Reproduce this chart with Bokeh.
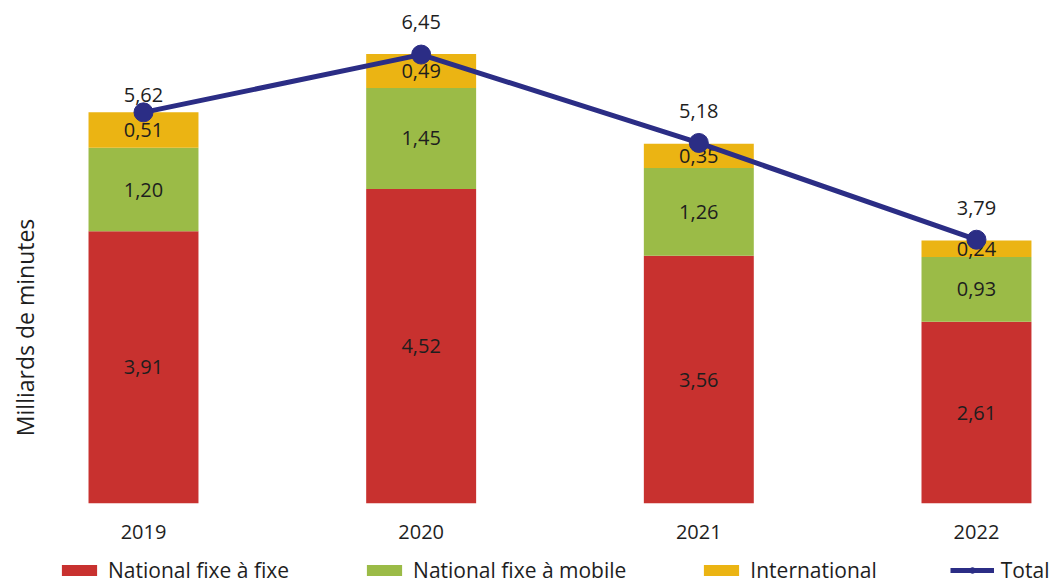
from bokeh.plotting import figure
from bokeh.models import ColumnDataSource, Range1d, FixedTicker, Legend, LegendItem, Label
from bokeh.layouts import column
from bokeh.core.properties import value
from bokeh.embed import file_html
from bokeh.resources import INLINE
import math

years = ["2019", "2020", "2021", "2022"]
fixe_fixe = [3.91, 4.52, 3.56, 2.61]
fixe_mobile = [1.20, 1.45, 1.26, 0.93]
international = [0.51, 0.49, 0.35, 0.24]
total = [5.62, 6.45, 5.18, 3.79]
series_names = ["National fixe à fixe", "National fixe à mobile", "International", "Total"]

colors = ["#C8312F", "#9BBB47", "#EBB413"]
line_color = "#2B2D85"
FONT = "Open Sans"
TXT = "#1E1E1E"

def fmt(v):
    return f"{v:.2f}".replace(".", ",")

xs = list(range(len(years)))
b1 = [0.0] * 4
t1 = fixe_fixe
b2 = t1
t2 = [a + b for a, b in zip(t1, fixe_mobile)]
b3 = t2
t3 = [a + b for a, b in zip(t2, international)]

src = ColumnDataSource(dict(
    x=xs,
    b1=b1, t1=t1, m1=[(a + b) / 2 for a, b in zip(b1, t1)], l1=[fmt(v) for v in fixe_fixe],
    b2=b2, t2=t2, m2=[(a + b) / 2 for a, b in zip(b2, t2)], l2=[fmt(v) for v in fixe_mobile],
    b3=b3, t3=t3, m3=[(a + b) / 2 for a, b in zip(b3, t3)], l3=[fmt(v) for v in international],
    total=total, lt=[fmt(v) for v in total],
    off=[-17, -33, -32, -32],
))

p = figure(frame_width=1044, frame_height=495, output_backend="svg", toolbar_location=None,
           x_range=Range1d(-0.479, 3.281), y_range=Range1d(0, 7.112),
           min_border_left=10, min_border_right=8, min_border_top=8, min_border_bottom=45,
           outline_line_color=None)
p.xgrid.visible = False
p.ygrid.visible = False
p.yaxis.visible = False

bw = 0.396
p.vbar(x="x", bottom="b1", top="t1", width=bw, source=src, fill_color=colors[0], line_color=None)
p.vbar(x="x", bottom="b2", top="t2", width=bw, source=src, fill_color=colors[1], line_color=None)
p.vbar(x="x", bottom="b3", top="t3", width=bw, source=src, fill_color=colors[2], line_color=None)

for m, l in (("m1", "l1"), ("m2", "l2"), ("m3", "l3")):
    p.text(x="x", y=m, text=l, source=src, text_font=value(FONT), text_font_size="20px",
           text_align="center", text_baseline="middle", text_color=TXT)

p.line(x="x", y="total", source=src, line_color=line_color, line_width=5)
p.scatter(x="x", y="total", source=src, size=19, fill_color=line_color, line_color=line_color)
p.text(x="x", y="total", text="lt", y_offset="off", source=src, text_font=value(FONT),
       text_font_size="20px", text_align="center", text_baseline="middle", text_color=TXT)

ax = p.xaxis[0]
ax.ticker = FixedTicker(ticks=xs)
ax.major_label_overrides = {i: y for i, y in zip(xs, years)}
ax.axis_line_color = None
ax.major_tick_line_color = None
ax.minor_tick_line_color = None
ax.major_label_standoff = 15
ax.major_label_text_font = FONT
ax.major_label_text_font_size = "20px"
ax.major_label_text_color = TXT

p.add_layout(Label(x=-0.428, y=2.53, text="Milliards de minutes", angle=math.pi / 2,
                   text_align="center", text_baseline="middle", text_font=FONT,
                   text_font_size="23px", text_color=TXT))

# Legend strip
lg = figure(width=1062, height=36, output_backend="svg", toolbar_location=None,
            x_axis_type=None, y_axis_type=None, min_border=0, outline_line_color=None,
            x_range=Range1d(0, 1), y_range=Range1d(0, 1))
lg.xgrid.visible = False
lg.ygrid.visible = False
hidden = ColumnDataSource(dict(x=[-50], y=[-50], b=[-60], t=[-50]))
g1 = lg.vbar(x="x", bottom="b", top="t", width=0.1, source=hidden, fill_color=colors[0], line_color=None)
g2 = lg.vbar(x="x", bottom="b", top="t", width=0.1, source=hidden, fill_color=colors[1], line_color=None)
g3 = lg.vbar(x="x", bottom="b", top="t", width=0.1, source=hidden, fill_color=colors[2], line_color=None)
gl = lg.line(x="x", y="y", source=hidden, line_color=line_color, line_width=5)
gm = lg.scatter(x="x", y="y", source=hidden, size=16, fill_color=line_color, line_color=line_color)

legend = Legend(items=[
    LegendItem(label=series_names[0], renderers=[g1]),
    LegendItem(label=series_names[1], renderers=[g2]),
    LegendItem(label=series_names[2], renderers=[g3]),
    LegendItem(label=series_names[3], renderers=[gl, gm]),
], orientation="horizontal", location=(47, 0), glyph_width=44, glyph_height=14,
    label_standoff=7, spacing=73, padding=0, margin=0, border_line_color=None,
    background_fill_alpha=0, label_text_font=FONT, label_text_font_size="21px",
    label_text_color=TXT)
lg.add_layout(legend, "center")

layout = column(p, lg, spacing=0)
open("out.html", "w").write(file_html(layout, INLINE))
